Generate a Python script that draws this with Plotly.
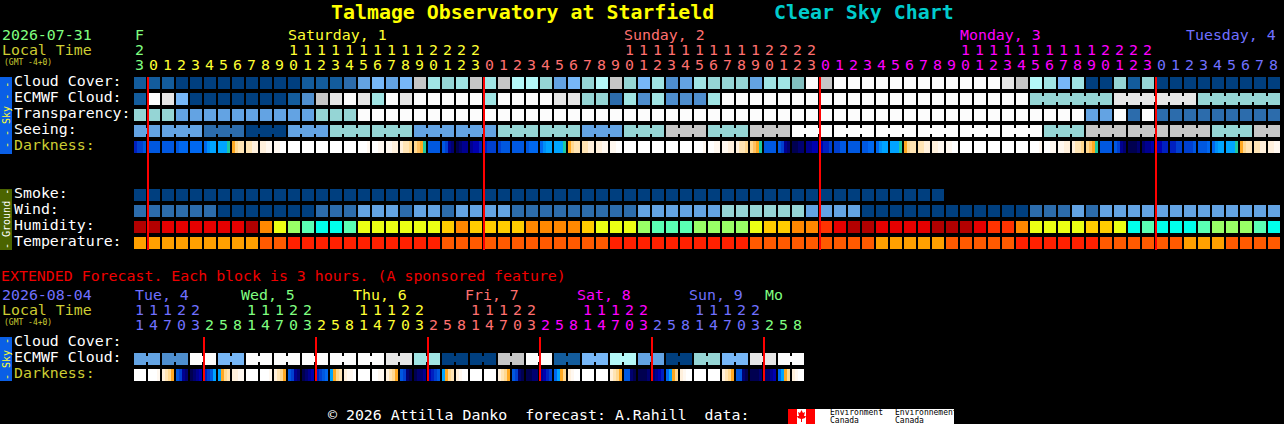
import plotly.graph_objects as go

# colour levels shared by the sky rows
sky_colors = ['#003F7F', '#135C9C', '#2C6CAC', '#4E8ECE', '#63A3E3', '#77B7F7', '#B4F8F8',
              '#A0E4E4', '#95D5D5', '#82BFBF', '#C6C6C6', '#E6E6E6', '#FCFCFC']
humidity_colors = ['#B20000', '#E60000', '#FF3300', '#FF8800', '#FFCC00', '#EBFF14',
                   '#99FF66', '#5AFFB4', '#00FFEB']
temperature_colors = ['#FFA000', '#FF5A00', '#FF2000']
darkness_colors = {
    'A': '#000050', 'B': '#000070', 'C': '#000090', 'D': '#0000B0', 'E': '#0020C0', 'F': '#0040D0',
    'G': '#0058E0', 'H': '#0068F0', 'I': '#0090F8', 'J': '#00A4FF', 'K': '#20C8A0', 'L': '#FFA820',
    'M': '#FFC060', 'N': '#FFD890', 'O': '#FFE4B4', 'P': '#FFF0DC', 'Q': '#FFF8F0', 'R': '#FFFFFF',
}

cloud_cover = [1, 1, 1, 0, 0, 0, 0, 0, 0, 0, 0, 0, 1, 1, 1, 2, 4, 5, 4, 5, 10, 7, 8, 7, 10, 7, 10, 6, 6, 8, 4, 5,
               8, 6, 10, 8, 5, 7, 3, 4, 7, 8, 8, 8, 4, 7, 7, 9, 12, 10, 12, 12, 12, 12, 12, 12, 12, 12, 12, 12, 12, 12,
               11, 10, 6, 7, 5, 7, 0, 0, 8, 1, 8, 0, 0, 0, 0, 0, 0, 0, 0, 0]
ecmwf_cloud = [1, 12, 11, 5, 0, 0, 0, 0, 0, 0, 0, 1, 3, 10, 11, 12, 11, 7, 12, 11, 12, 12, 12, 12, 12, 7, 12, 12, 12, 12,
               11, 11, 8, 8, 2, 7, 3, 7, 3, 3, 3, 7, 12, 12, 12, 12, 12, 12, 12, 12, 12, 12, 12, 12, 12, 12, 12, 12, 12,
               12, 12, 12, 12, 12, 8, 8, 8, 8, 8, 8, 11, 11, 11, 11, 11, 11, 8, 8, 8, 8, 8, 8]
transparency = [8, 8, 8, 4, 4, 4, 4, 4, 4, 4, 4, 4, 4, 8, 8, 8, 12, 12, 12, 12, 12, 12, 12, 12, 12, 12, 12, 12, 12, 12, 12,
                12, 12, 12, 12, 12, 12, 12, 12, 12, 12, 12, 12, 12, 12, 12, 12, 12, 12, 12, 12, 12, 12, 12, 12, 12, 12, 12,
                12, 12, 12, 12, 12, 12, 12, 12, 12, 12, 4, 4, 12, 2, 12, 2, 2, 2, 2, 2, 2, 2, 2, 2]
seeing = [4, 4, 4, 4, 4, 2, 2, 2, 0, 0, 0, 4, 4, 4, 8, 8, 8, 8, 8, 8, 4, 4, 4, 4, 4, 4, 8, 8, 8, 8, 8, 8, 4, 4, 4, 8, 8, 8,
          10, 10, 10, 8, 8, 8, 10, 10, 10, 12, 12, 12, 12, 12, 12, 12, 12, 12, 12, 12, 12, 12, 12, 12, 12, 12, 12,
          8, 8, 8, 10, 10, 10, 10, 10, 10, 10, 10, 10, 8, 8, 8, 10, 10]
darkness = ['EFFG', 'GGGG', 'GGGG', 'GHHH', 'HHHH', 'HIJJ', 'JJJK', 'LNOO', 'OOPP', 'PPQQ', 'QQRR', 'RRRR', 'RRRR',
            'RRRR', 'RRRR', 'RRRR', 'RRRQ', 'RRQQ', 'QQPP', 'POON', 'NMLK', 'GGGG', 'GFCB', 'ABCC', 'CDDE', 'EFFF',
            'FGGG', 'GGGG', 'GHHH', 'HIJJ', 'JJJK', 'LNOO', 'OOPP', 'PPQQ', 'QQRR', 'RRRR', 'RRRR', 'RRRR', 'RRRR',
            'RRRR', 'RRRQ', 'RRQQ', 'QQPP', 'POON', 'NMLK', 'GGGG', 'GFCB', 'AABB', 'CCDD', 'DEEF', 'FFGG', 'GGGG',
            'GGHH', 'HIJJ', 'JJJK', 'LNOO', 'OOPP', 'PPQQ', 'QQRR', 'RRRR', 'RRRR', 'RRRR', 'RRRR', 'RRRR', 'RRRQ',
            'RRQQ', 'QQPP', 'POON', 'NMLK', 'GGGG', 'GFCB', 'AAAB', 'BCCD', 'DDEE', 'EEFF', 'FFFG', 'GGGH', 'HIJJ',
            'JJJK', 'LNOO', 'OOPP', 'PPQQ']
smoke = [0, 0, 0, 0, 0, 0, 0, 0, 0, 0, 0, 0, 0, 0, 0, 0, 0, 0, 0, 0, 0, 0, 0, 0, 0, 0, 0, 0, 0,
         0, 0, 0, 0, 0, 0, 0, 0, 0, 0, 0, 0, 0, 0, 0, 0, 0, 0, 0, 0, 0, 0, 0, 0, 0, 0, 0, 0, 0]
wind = [2, 2, 2, 2, 2, 2, 0, 0, 0, 0, 0, 0, 0, 2, 2, 2, 4, 4, 4, 2, 4, 4, 2, 4, 4, 4, 4, 2, 2, 2, 2, 2, 2, 2, 2, 2, 4, 4, 4,
        4, 4, 4, 8, 8, 8, 8, 8, 8, 4, 4, 4, 4, 0, 0, 0, 0, 0, 0, 0, 0, 0, 0, 0, 0, 2, 2, 2, 4, 2, 4, 4, 4, 4, 4, 4, 4, 4,
        4, 4, 4, 4, 4]
humidity = [0, 0, 1, 1, 1, 1, 1, 1, 0, 3, 5, 6, 7, 8, 8, 7, 5, 5, 5, 5, 5, 5, 4, 3, 4, 4, 4, 4, 3, 3, 3, 3, 4, 5, 5, 5, 6, 7,
            7, 7, 6, 6, 6, 6, 5, 4, 4, 3, 3, 2, 1, 0, 0, 1, 1, 1, 1, 0, 0, 0, 1, 2, 2, 3, 5, 5, 5, 5, 4, 4, 5, 8, 7, 8, 8, 8,
            7, 6, 6, 6, 7, 8]
temperature = [0, 0, 0, 0, 0, 0, 0, 0, 0, 1, 1, 2, 2, 2, 2, 2, 2, 2, 2, 2, 2, 2, 1, 1, 1, 1, 1, 1, 1, 1, 1, 1, 1, 1, 2, 2, 2, 2,
               2, 2, 2, 2, 2, 2, 1, 1, 1, 1, 1, 1, 1, 1, 1, 0, 0, 0, 0, 0, 1, 1, 1, 1, 1, 2, 2, 2, 2, 2, 2, 1, 1, 1, 1, 1, 1,
               0, 0, 0, 1, 1, 1, 1]

ext_ecmwf_cloud = [4, 4, 3, 3, 12, 12, 5, 5, 12, 12, 12, 12, 12, 12, 12, 12, 12, 12, 11, 11, 7, 7, 0, 0, 0, 0, 10, 10,
                   12, 12, 1, 1, 5, 5, 6, 6, 4, 4, 0, 0, 8, 8, 5, 5, 11, 11, 12, 12]
ext_darkness = ['RRRR', 'RRRQ', 'PONL', 'GFCB', 'ABCD', 'EFGJ', 'JLNO', 'PPQQ', 'RRRR', 'RRRQ', 'PONL', 'GFCB',
                'ABCD', 'EFGH', 'JLNO', 'PQQR', 'RRRR', 'RRQQ', 'PONL', 'GFBA', 'ABBC', 'DEFG', 'JLNO', 'PQRR',
                'RRRR', 'RRRR', 'PONL', 'GFBA', 'AABB', 'CDEF', 'HJLN', 'PQRR', 'RRRR', 'RRRR', 'PONL', 'GGBA',
                'AAAB', 'BCDE', 'HJLN', 'PQRR', 'RRRR', 'RRRR', 'PONL', 'GGBA', 'AAAB', 'BBCD', 'HJLN', 'PQRR']

hours = [23, 0, 1, 2, 3, 4, 5, 6, 7, 8, 9, 10, 11, 12, 13, 14, 15, 16, 17, 18, 19, 20, 21, 22, 23,
         0, 1, 2, 3, 4, 5, 6, 7, 8, 9, 10, 11, 12, 13, 14, 15, 16, 17, 18, 19, 20, 21, 22, 23,
         0, 1, 2, 3, 4, 5, 6, 7, 8, 9, 10, 11, 12, 13, 14, 15, 16, 17, 18, 19, 20, 21, 22, 23,
         0, 1, 2, 3, 4, 5, 6, 7, 8]
ext_hours = [11, 14, 17, 20, 23, 2, 5, 8, 11, 14, 17, 20, 23, 2, 5, 8, 11, 14, 17, 20, 23, 2, 5, 8,
             11, 14, 17, 20, 23, 2, 5, 8, 11, 14, 17, 20, 23, 2, 5, 8, 11, 14, 17, 20, 23, 2, 5, 8]

GREEN, YELLOW, RED, MAGENTA, BLUE = '#80FF80', '#FFFF33', '#FF7070', '#FF00FF', '#7070FF'
day_names = ['F', 'Saturday, 1', 'Sunday, 2', 'Monday, 3', 'Tuesday, 4']
day_x = [134, 287, 623, 959, 1185]
day_colors = [GREEN, YELLOW, RED, MAGENTA, BLUE]
midnights = [1, 25, 49, 73]
ext_day_names = ['Tue, 4', 'Wed, 5', 'Thu, 6', 'Fri, 7', 'Sat, 8', 'Sun, 9', 'Mo']
ext_day_x = [134, 240, 352, 464, 576, 688, 764]
ext_day_colors = [BLUE, GREEN, YELLOW, RED, MAGENTA, BLUE, GREEN]
ext_midnights = [5, 13, 21, 29, 37, 45]

LEFT = 134
PITCH = 14
FONT = 'DejaVu Sans Mono'
OLIVE = '#CCCC33'

fig = go.Figure()
annotations = []
shapes = []


def label(x, y, text, color='white', size=14.9, anchor='left', bold=False, angle=0):
    if bold:
        text = f'<b>{text}</b>'
    annotations.append(dict(x=x, y=y, text=text, xanchor=anchor, yanchor='middle', showarrow=False,
                            textangle=angle, borderpad=0, align='left',
                            font=dict(family=FONT, size=size, color=color)))


def rect(x0, y0, x1, y1, color, layer='below'):
    shapes.append(dict(type='rect', x0=x0, y0=y0, x1=x1, y1=y1, fillcolor=color, line_width=0, layer=layer))


def steps(colors):
    n = len(colors)
    scale = []
    for k, c in enumerate(colors):
        scale += [[k / n, c], [(k + 1) / n, c]]
    return scale


def add_row(values, colors, y, link=None):
    n = len(colors)
    fig.add_trace(go.Heatmap(z=[values], x0=LEFT + 6, dx=PITCH, y0=y, dy=16, xgap=2, ygap=4, showscale=False,
                             colorscale=steps(colors), zmin=-0.5, zmax=n - 0.5, hoverinfo='skip'))
    if link:
        # the little bridge between blocks that belong together
        z = [values[i] if link(i) else None for i in range(len(values) - 1)]
        fig.add_trace(go.Heatmap(z=[z], x0=LEFT + 13, dx=PITCH, y0=y, dy=16, xgap=12, ygap=10, showscale=False,
                                 colorscale=steps(colors), zmin=-0.5, zmax=n - 0.5, hoverinfo='skip'))


def add_darkness(blocks, y):
    keys = list(darkness_colors)
    edges = []
    z = []
    for i, block in enumerate(blocks):
        x = LEFT + PITCH * i
        for k, ch in enumerate(block):
            edges.append(x + 3 * k)
            z.append(keys.index(ch))
        edges.append(x + 12)
        z.append(None)
    edges.append(LEFT + PITCH * len(blocks))
    fig.add_trace(go.Heatmap(z=[z], x=edges, y0=y, dy=12, showscale=False,
                             colorscale=steps(list(darkness_colors.values())),
                             zmin=-0.5, zmax=len(keys) - 0.5, hoverinfo='skip'))


def add_hours(values, marks, colors, y_tens, y_ones):
    for i, h in enumerate(values):
        day = sum(1 for m in marks if m <= i)
        x = LEFT + 5.5 + PITCH * i
        if h >= 10:
            label(x, y_tens, str(h // 10), colors[day], anchor='center')
        label(x, y_ones, str(h % 10), colors[day], anchor='center')


# main forecast rows
add_row(cloud_cover, sky_colors, 83)
add_row(ecmwf_cloud, sky_colors, 99, link=lambda i: i >= 64 and i not in (69, 75))
add_row(transparency, sky_colors, 115)
add_row(seeing, sky_colors, 131, link=lambda i: i % 3 != 1)
add_darkness(darkness, 147)
add_row(smoke, sky_colors, 195)
add_row(wind, sky_colors, 211)
add_row(humidity, humidity_colors, 227)
add_row(temperature, temperature_colors, 243)

# extended forecast rows
add_row(ext_ecmwf_cloud, sky_colors, 359, link=lambda i: i % 2 == 0)
add_darkness(ext_darkness, 375)

# midnight lines
for m in midnights:
    rect(LEFT + PITCH * m - 1, 77, LEFT + PITCH * m + 1, 250, '#FF0000', layer='above')
for m in ext_midnights:
    rect(LEFT + PITCH * m - 1, 337, LEFT + PITCH * m + 1, 381, '#FF0000', layer='above')

# titles
label(329.5, 12, 'Talmage Observatory at Starfield', '#FFFF00', 19.9, bold=True)
label(772.5, 12, 'Clear Sky Chart', '#00CCCC', 19.9, bold=True)

# header block
label(1, 35, '2026-07-31', GREEN)
label(1, 50, 'Local Time', OLIVE)
label(3, 62, '(GMT -4+0)', OLIVE, 8)
for name, x, color in zip(day_names, day_x, day_colors):
    label(x, 35, name, color)
add_hours(hours, midnights, day_colors, 50, 65)

# row labels
for y, text, color in [(81, 'Cloud Cover:', 'white'), (97, 'ECMWF Cloud:', 'white'), (113, 'Transparency:', 'white'),
                       (129, 'Seeing:', 'white'), (145, 'Darkness:', OLIVE), (193, 'Smoke:', 'white'),
                       (209, 'Wind:', 'white'), (225, 'Humidity:', 'white'), (241, 'Temperature:', 'white'),
                       (341, 'Cloud Cover:', 'white'), (357, 'ECMWF Cloud:', 'white'), (373, 'Darkness:', OLIVE)]:
    label(13, y, text, color)

# side bars
rect(0, 77, 12, 154, '#0A5FE6')
rect(0, 189, 12, 250, '#4B6400')
rect(0, 337, 12, 381, '#0A5FE6')
label(6, 115, '- - Sky - -', '#FFFF33', 10, anchor='center', angle=-90)
label(6, 219, '- Ground -', 'white', 10, anchor='center', angle=-90)
label(6, 359, '- Sky -', '#FFFF33', 10, anchor='center', angle=-90)

# extended header
label(0, 276, 'EXTENDED Forecast. Each block is 3 hours. (A sponsored feature)', '#F00000')
label(1, 295, '2026-08-04', BLUE)
label(1, 310, 'Local Time', OLIVE)
label(3, 322, '(GMT -4+0)', OLIVE, 8)
for name, x, color in zip(ext_day_names, ext_day_x, ext_day_colors):
    label(x, 295, name, color)
add_hours(ext_hours, ext_midnights, ext_day_colors, 310, 325)

# footer
label(327, 415, '© 2026 Attilla Danko  forecast: A.Rahill  data:')
rect(788, 409, 954, 424, 'white')
rect(788, 409, 797, 424, '#FF0000')
rect(806, 409, 815, 424, '#FF0000')
shapes.append(dict(type='path', fillcolor='#FF0000', line_width=0,
                   path='M 801.5 410 L 803 413 L 805 412 L 804 416 L 806 416 L 805 418 L 802 419 L 802 422 '
                        'L 801 422 L 801 419 L 798 418 L 797 416 L 799 416 L 798 412 L 800 413 Z'))
label(829, 412.5, 'Environment', 'black', 8)
label(829, 420, 'Canada', 'black', 8)
label(894, 412.5, 'Environnement', 'black', 8)
label(894, 420, 'Canada', 'black', 8)

fig.update_layout(
    width=1284,
    height=424,
    margin=dict(l=0, r=0, t=0, b=0),
    paper_bgcolor='black',
    plot_bgcolor='black',
    xaxis=dict(range=[0, 1284], visible=False, fixedrange=True),
    yaxis=dict(range=[424, 0], visible=False, fixedrange=True),
    showlegend=False,
    annotations=annotations,
)
for s in shapes:
    fig.add_shape(s)

fig.write_html("out.html", config=dict(displayModeBar=False),
               post_script="document.body.style.margin='0';document.body.style.background='black';")
